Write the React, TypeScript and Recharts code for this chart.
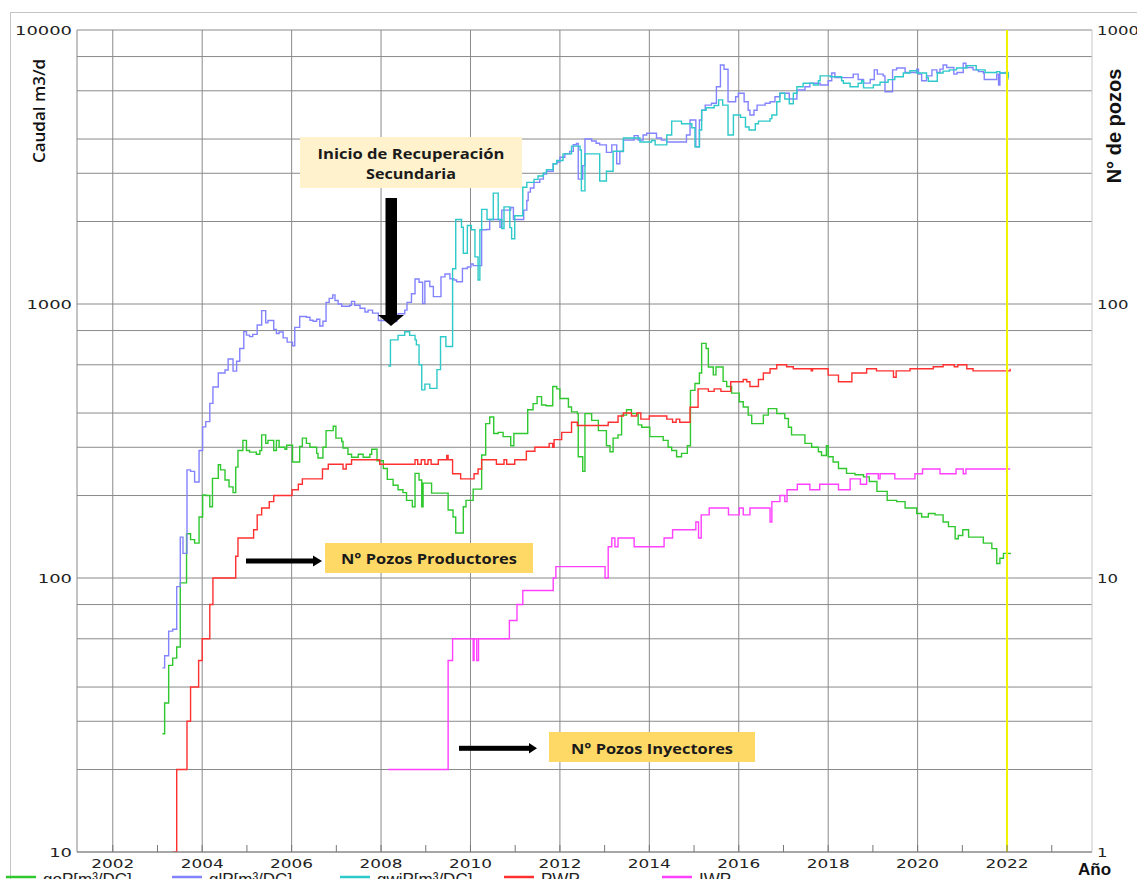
import React from "react";
import { LineChart, Line, XAxis, YAxis, CartesianGrid, ReferenceLine } from "recharts";

const W = 1137;
const H = 879;

// goP [m3/DC] – oil rate, left axis
const goP: [number, number][] = [
  [2003.11, 27], [2003.16, 35], [2003.25, 48], [2003.34, 51], [2003.43, 56], [2003.51, 96], [2003.65, 145],
  [2003.74, 138], [2003.83, 134], [2003.93, 167], [2004.01, 201], [2004.08, 200], [2004.17, 182], [2004.23, 231],
  [2004.36, 259], [2004.41, 248], [2004.51, 228], [2004.6, 215], [2004.69, 205], [2004.75, 254], [2004.8, 292],
  [2004.91, 318], [2004.99, 292], [2005.06, 288], [2005.21, 283], [2005.29, 292], [2005.33, 333], [2005.42, 310],
  [2005.47, 318], [2005.6, 292], [2005.66, 318], [2005.72, 300], [2005.85, 295], [2005.89, 305], [2006.02, 265],
  [2006.18, 302], [2006.24, 324], [2006.33, 310], [2006.41, 300], [2006.56, 285], [2006.59, 274], [2006.7, 300],
  [2006.77, 345], [2006.93, 358], [2006.99, 324], [2007.12, 315], [2007.15, 298], [2007.26, 283], [2007.34, 276],
  [2007.49, 283], [2007.6, 276], [2007.75, 283], [2007.79, 295], [2007.91, 268], [2008.05, 251], [2008.14, 229],
  [2008.27, 218], [2008.38, 210], [2008.49, 205], [2008.57, 192], [2008.7, 182], [2008.76, 241], [2008.85, 228],
  [2008.91, 182], [2008.94, 222], [2009.13, 204], [2009.5, 177], [2009.61, 167], [2009.67, 146], [2009.84, 182],
  [2009.9, 192], [2010.06, 211], [2010.25, 281], [2010.34, 366], [2010.43, 387], [2010.52, 337], [2010.62, 340],
  [2010.73, 328], [2010.9, 304], [2010.97, 337], [2011.28, 411], [2011.4, 433], [2011.49, 459], [2011.59, 428],
  [2011.69, 425], [2011.84, 500], [2011.93, 490], [2012.0, 452], [2012.19, 421], [2012.26, 404], [2012.39, 398],
  [2012.41, 277], [2012.51, 245], [2012.56, 398], [2012.71, 376], [2012.86, 345], [2013.04, 304], [2013.12, 289],
  [2013.19, 324], [2013.3, 333], [2013.38, 393], [2013.49, 411], [2013.6, 398], [2013.75, 362], [2013.83, 355],
  [2014.01, 328], [2014.31, 318], [2014.42, 300], [2014.5, 292], [2014.61, 277], [2014.72, 285], [2014.85, 304],
  [2014.92, 484], [2015.02, 513], [2015.12, 560], [2015.17, 718], [2015.27, 688], [2015.32, 589], [2015.43, 551],
  [2015.49, 589], [2015.65, 522], [2015.73, 500], [2015.84, 473], [2016.01, 440], [2016.1, 421], [2016.21, 393],
  [2016.29, 366], [2016.55, 393], [2016.66, 415], [2016.85, 398], [2017.03, 382], [2017.11, 355], [2017.18, 333],
  [2017.48, 310], [2017.63, 300], [2017.78, 289], [2017.85, 280], [2017.96, 304], [2018.0, 277], [2018.11, 265],
  [2018.23, 251], [2018.41, 241], [2018.6, 238], [2018.79, 234], [2018.92, 225], [2019.09, 207], [2019.32, 192],
  [2019.53, 190], [2019.72, 180], [2019.98, 172], [2020.09, 167], [2020.24, 172], [2020.39, 170], [2020.57, 160],
  [2020.69, 154], [2020.84, 139], [2020.91, 143], [2021.01, 150], [2021.14, 141], [2021.47, 134], [2021.66, 128],
  [2021.77, 113], [2021.84, 118], [2021.92, 123], [2022.07, 122],
];

// glP [m3/DC] – liquid rate, left axis
const glP: [number, number][] = [
  [2003.11, 47], [2003.16, 52], [2003.25, 64], [2003.34, 65], [2003.43, 93], [2003.51, 141], [2003.57, 123],
  [2003.66, 248], [2003.74, 245], [2003.83, 224], [2003.93, 292], [2004.01, 356], [2004.08, 372], [2004.17, 434],
  [2004.24, 498], [2004.36, 560], [2004.51, 574], [2004.58, 630], [2004.69, 569], [2004.77, 618], [2004.84, 688],
  [2004.93, 793], [2004.99, 770], [2005.06, 760], [2005.13, 775], [2005.23, 838], [2005.33, 946], [2005.42, 853],
  [2005.47, 870], [2005.6, 808], [2005.66, 780], [2005.72, 790], [2005.81, 752], [2005.9, 726], [2006.02, 704],
  [2006.07, 822], [2006.18, 900], [2006.33, 895], [2006.41, 872], [2006.48, 865], [2006.56, 880], [2006.63, 831],
  [2006.7, 865], [2006.77, 1014], [2006.84, 1048], [2006.92, 1080], [2006.97, 1030], [2007.04, 1000], [2007.12, 981],
  [2007.3, 990], [2007.34, 1022], [2007.41, 990], [2007.53, 965], [2007.64, 935], [2007.71, 950], [2007.81, 926],
  [2007.94, 870], [2008.14, 863], [2008.35, 890], [2008.38, 921], [2008.53, 950], [2008.58, 1014], [2008.68, 1090],
  [2008.76, 1234], [2008.85, 1200], [2008.93, 1004], [2008.98, 1211], [2009.09, 1159], [2009.17, 1064], [2009.34, 1256],
  [2009.43, 1287], [2009.54, 1237], [2009.63, 1223], [2009.69, 1206], [2009.82, 1347], [2009.93, 1364], [2010.01, 1400],
  [2010.06, 1380], [2010.25, 1866], [2010.36, 1870], [2010.43, 2033], [2010.66, 1905], [2010.7, 2201], [2010.9, 2250],
  [2010.96, 2033], [2011.19, 2201], [2011.26, 2386], [2011.29, 2560], [2011.34, 2650], [2011.42, 2778], [2011.55, 2855],
  [2011.63, 2978], [2011.7, 3050], [2011.85, 3250], [2011.93, 3300], [2012.0, 3433], [2012.11, 3530], [2012.22, 3606],
  [2012.3, 3812], [2012.37, 3855], [2012.41, 2855], [2012.51, 3200], [2012.56, 4001], [2012.71, 3935], [2012.81, 3860],
  [2012.89, 3810], [2013.04, 3577], [2013.16, 3810], [2013.27, 3250], [2013.34, 3600], [2013.42, 3965], [2013.66, 4117],
  [2013.75, 3965], [2013.86, 4140], [2013.94, 4200], [2014.16, 4035], [2014.27, 3965], [2014.39, 3900], [2014.57, 3900],
  [2014.83, 4138], [2014.91, 4692], [2015.04, 3750], [2015.12, 4692], [2015.17, 5096], [2015.25, 5320], [2015.39, 5400],
  [2015.5, 6210], [2015.59, 7450], [2015.67, 7190], [2015.76, 5470], [2015.93, 5710], [2015.99, 5875], [2016.12, 5470],
  [2016.21, 5096], [2016.25, 4895], [2016.34, 5096], [2016.41, 5320], [2016.59, 5400], [2016.7, 5470], [2016.81, 5710],
  [2016.92, 5875], [2017.13, 5600], [2017.3, 6040], [2017.48, 6210], [2017.59, 6390], [2017.82, 6300], [2018.0, 6530],
  [2018.08, 6970], [2018.15, 6700], [2018.56, 6900], [2018.67, 6600], [2018.79, 6400], [2018.94, 6600], [2019.03, 7150],
  [2019.1, 6900], [2019.23, 6800], [2019.27, 5950], [2019.44, 7150], [2019.53, 7270], [2019.72, 7000], [2019.98, 7200],
  [2020.02, 6900], [2020.09, 6530], [2020.2, 6800], [2020.32, 7150], [2020.43, 7000], [2020.5, 7200], [2020.57, 7450],
  [2020.65, 7300], [2020.81, 6900], [2020.88, 7000], [2021.02, 7560], [2021.08, 7300], [2021.24, 7150], [2021.36, 7050],
  [2021.47, 6970], [2021.49, 6600], [2021.64, 6600], [2021.77, 6900], [2021.81, 6300], [2021.84, 6970], [2021.96, 7000],
  [2022.02, 6590],
];

// gwiP [m3/DC] – water injection rate, left axis
const gwiP: [number, number][] = [
  [2008.16, 594], [2008.21, 740], [2008.38, 768], [2008.53, 792], [2008.64, 768], [2008.76, 740], [2008.79, 709],
  [2008.85, 600], [2008.91, 486], [2008.98, 510], [2009.09, 492], [2009.25, 576], [2009.33, 759], [2009.45, 700],
  [2009.6, 1344], [2009.67, 2033], [2009.8, 1905], [2009.84, 1531], [2009.93, 1933], [2010.02, 1866], [2010.1, 1486],
  [2010.17, 1223], [2010.21, 1866], [2010.25, 2214], [2010.37, 2033], [2010.51, 2539], [2010.62, 2033], [2010.7, 1887],
  [2010.75, 2261], [2010.88, 1900], [2010.92, 1730], [2010.99, 2100], [2011.17, 2666], [2011.26, 2778], [2011.42, 2850],
  [2011.51, 2932], [2011.63, 3011], [2011.7, 3094], [2011.85, 3250], [2011.93, 3340], [2012.07, 3530], [2012.26, 3770],
  [2012.45, 3650], [2012.48, 2588], [2012.56, 3530], [2012.89, 2812], [2013.04, 3052], [2013.19, 3610], [2013.42, 4035],
  [2013.79, 3900], [2014.05, 3950], [2014.13, 3810], [2014.39, 4138], [2014.5, 4650], [2014.72, 4550], [2014.95, 4400],
  [2015.02, 3750], [2015.12, 4315], [2015.17, 5096], [2015.27, 5200], [2015.45, 5300], [2015.55, 5560], [2015.64, 5320],
  [2015.76, 4138], [2015.88, 4895], [2016.04, 4800], [2016.15, 4425], [2016.23, 4315], [2016.37, 4550], [2016.44, 4650],
  [2016.7, 4750], [2016.74, 4895], [2016.85, 5470], [2016.92, 5875], [2017.03, 5600], [2017.13, 5380], [2017.22, 5875],
  [2017.3, 6210], [2017.44, 6390], [2017.67, 6300], [2017.78, 6530], [2017.82, 6800], [2018.05, 6750], [2018.3, 6530],
  [2018.34, 6390], [2018.49, 6210], [2018.67, 6390], [2018.75, 6530], [2018.79, 6150], [2019.01, 6300], [2019.16, 6450],
  [2019.34, 6590], [2019.49, 6750], [2019.68, 6970], [2019.83, 7100], [2019.98, 6970], [2020.2, 6700], [2020.24, 6500],
  [2020.44, 6970], [2020.57, 7080], [2020.71, 7150], [2020.87, 7270], [2021.1, 7410], [2021.31, 7150], [2021.51, 7000],
  [2021.77, 7050], [2021.84, 6970], [2022.03, 6700],
];

// PWP – producing wells, right axis
const pwp: [number, number][] = [
  [2003.35, 1], [2003.43, 2], [2003.66, 3], [2003.74, 4], [2003.92, 5], [2004.0, 6], [2004.17, 8], [2004.24, 10],
  [2004.75, 12], [2004.8, 14], [2005.15, 15], [2005.23, 17], [2005.33, 18], [2005.5, 19], [2005.6, 20], [2006.01, 21],
  [2006.15, 22], [2006.24, 23], [2006.69, 25], [2006.82, 26], [2007.15, 25], [2007.22, 26], [2007.34, 27], [2007.97, 26],
  [2008.76, 27], [2008.82, 26], [2008.9, 27], [2008.98, 26], [2009.05, 27], [2009.12, 26], [2009.28, 27], [2009.47, 28],
  [2009.5, 27], [2009.6, 24], [2009.78, 23], [2010.08, 24], [2010.17, 25], [2010.25, 27], [2010.58, 26], [2010.75, 27],
  [2010.81, 26], [2010.99, 27], [2011.25, 29], [2011.44, 30], [2011.76, 31], [2011.84, 30], [2011.87, 32], [2012.04, 34],
  [2012.26, 37], [2012.39, 36], [2013.08, 37], [2013.3, 39], [2013.42, 40], [2013.6, 39], [2013.72, 40], [2013.81, 38],
  [2014.0, 39], [2014.39, 38], [2014.52, 37], [2014.6, 38], [2014.68, 37], [2014.91, 42], [2015.09, 49], [2015.32, 48],
  [2015.45, 49], [2015.6, 48], [2015.82, 52], [2016.1, 53], [2016.18, 52], [2016.25, 50], [2016.44, 53], [2016.55, 56],
  [2016.7, 58], [2016.85, 60], [2017.07, 59], [2017.22, 58], [2017.5, 58], [2017.62, 57], [2017.65, 58], [2018.0, 55],
  [2018.23, 52], [2018.53, 56], [2018.86, 58], [2019.08, 57], [2019.46, 54], [2019.52, 57], [2019.83, 58], [2020.35, 59],
  [2020.57, 60], [2020.82, 59], [2020.9, 60], [2021.1, 58], [2021.24, 57], [2021.55, 57], [2022.07, 58],
];

// IWP – injection wells, right axis
const iwp: [number, number][] = [
  [2008.16, 2], [2009.5, 5], [2009.6, 6], [2010.06, 5], [2010.08, 6], [2010.14, 5], [2010.18, 6], [2010.87, 7],
  [2011.04, 8], [2011.17, 9], [2011.85, 10], [2011.91, 11], [2013.01, 10], [2013.08, 13], [2013.16, 14], [2013.23, 13],
  [2013.3, 14], [2013.66, 13], [2014.33, 14], [2014.52, 15], [2015.04, 16], [2015.1, 14], [2015.16, 17], [2015.34, 18],
  [2015.77, 17], [2016.01, 18], [2016.1, 17], [2016.25, 18], [2016.7, 16], [2016.74, 19], [2016.92, 20], [2017.03, 19],
  [2017.08, 21], [2017.31, 22], [2017.59, 21], [2017.81, 22], [2018.23, 21], [2018.49, 23], [2018.72, 22], [2018.86, 24],
  [2019.12, 23], [2019.16, 24], [2019.49, 23], [2019.94, 24], [2020.11, 25], [2020.5, 24], [2020.86, 25], [2021.02, 24],
  [2021.08, 25], [2022.07, 25],
];

const yearTicks = Array.from({ length: 22 }, (_, i) => 2002 + i);
const gridYears = yearTicks.filter((y) => y % 2 === 0);
const rateTicks = [10, 100, 1000, 10000];
const wellTicks = [1, 10, 100, 1000];
const rateGrid = [10, 100, 1000].flatMap((d) => [1, 2, 3, 4, 5, 6, 7, 8, 9].map((m) => d * m)).concat([10000]);

const series = [
  { key: "goP", label: "goP[m³/DC]", color: "#2fc82f", data: goP, axis: "left" },
  { key: "glP", label: "glP[m³/DC]", color: "#8383ff", data: glP, axis: "left" },
  { key: "gwiP", label: "gwiP[m³/DC]", color: "#2ec9c9", data: gwiP, axis: "left" },
  { key: "pwp", label: "PWP", color: "#ff3030", data: pwp, axis: "right" },
  { key: "iwp", label: "IWP", color: "#ff40ff", data: iwp, axis: "right" },
];
const legendX = [6, 172, 340, 504, 662];

const toRows = (pts: [number, number][]) => pts.map(([t, v]) => ({ t, v }));

const tickFont = "DejaVu Sans";

const YearTick = (props: any) => {
  const { x, payload } = props;
  const yr = payload.value as number;
  return (
    <g>
      <line x1={x} x2={x} y1={852} y2={845} stroke="#777" strokeWidth={1} />
      {yr % 2 === 0 && (
        <text x={x} y={868} textAnchor="middle" fontFamily={tickFont} fontSize={13} fill="#222"
          textLength={43} lengthAdjust="spacingAndGlyphs">{yr}</text>
      )}
    </g>
  );
};

const RateTick = (props: any) => {
  const { y, payload } = props;
  const s = String(payload.value);
  return (
    <text x={72} y={y + 4.5} textAnchor="end" fontFamily={tickFont} fontSize={12} fill="#222"
      textLength={s.length * 11.4} lengthAdjust="spacingAndGlyphs">{s}</text>
  );
};

const WellTick = (props: any) => {
  const { y, payload } = props;
  const s = String(payload.value);
  return (
    <text x={1097} y={y + 4.5} textAnchor="start" fontFamily={tickFont} fontSize={12} fill="#222"
      textLength={s.length * 10.5} lengthAdjust="spacingAndGlyphs">{s}</text>
  );
};

export default function App() {
  const boxFont = "Open Sans";
  return (
    <div style={{ position: "absolute", left: 0, top: 0, width: W, height: H, overflow: "hidden", background: "#fff" }}>
      <div style={{ position: "absolute", left: 10, top: 12, width: 1300, height: 1000, border: "1px solid #c4c4c4" }} />
      <div style={{ position: "absolute", left: 0, top: 0 }}>
        <LineChart width={W} height={H} margin={{ top: 30, right: 0, bottom: 0, left: 0 }}>
          <CartesianGrid yAxisId="left" horizontalValues={rateGrid} verticalValues={gridYears} stroke="#8a8a8a" strokeWidth={1} />
          <XAxis dataKey="t" type="number" domain={[2001.2, 2023.9]} allowDataOverflow ticks={yearTicks} interval={0}
            height={27} tickLine={false} axisLine={{ stroke: "#888" }} tick={<YearTick />} />
          <YAxis yAxisId="left" scale="log" domain={[10, 10000]} allowDataOverflow ticks={rateTicks} width={77}
            tickLine={false} axisLine={{ stroke: "#888" }} tick={<RateTick />} />
          <YAxis yAxisId="right" orientation="right" scale="log" domain={[1, 1000]} allowDataOverflow ticks={wellTicks}
            width={45} tickLine={false} axisLine={{ stroke: "#c8c8c8" }} tick={<WellTick />} />
          {series.map((s) => (
            <Line key={s.key} data={toRows(s.data)} dataKey="v" yAxisId={s.axis} type="stepAfter" stroke={s.color}
              strokeWidth={1.4} dot={false} activeDot={false} isAnimationActive={false} />
          ))}
          <ReferenceLine yAxisId="left" x={2022} stroke="#f2f200" strokeWidth={2} />
        </LineChart>
      </div>
      <svg width={W} height={H} style={{ position: "absolute", left: 0, top: 0 }}>
        <text transform="translate(45,111) rotate(-90)" textAnchor="middle" fontFamily={boxFont} fontWeight={600}
          fontSize={17} fill="#111">Caudal m3/d</text>
        <text transform="translate(1121,126) rotate(-90)" textAnchor="middle" fontFamily="Liberation Sans" fontWeight={700}
          fontSize={20} fill="#111">N° de pozos</text>
        <text x={1078} y={875} fontFamily="Liberation Sans" fontWeight={700} fontSize={17} fill="#111">Año</text>

        <rect x={300} y={137} width={222} height={51} fill="#fff2cc" />
        <text x={411} y={158.5} textAnchor="middle" fontFamily={boxFont} fontWeight={700} fontSize={14} fill="#1a1a1a"
          textLength={187} lengthAdjust="spacingAndGlyphs">Inicio de Recuperación</text>
        <text x={411} y={178.5} textAnchor="middle" fontFamily={boxFont} fontWeight={700} fontSize={14} fill="#1a1a1a"
          textLength={90} lengthAdjust="spacingAndGlyphs">Secundaria</text>
        <rect x={385.5} y={198} width={11.5} height={118} fill="#000" />
        <polygon points="378,315 404,315 391,326" fill="#000" />

        <rect x={325} y={543} width={208} height={30} fill="#ffd966" />
        <text x={429} y={564} textAnchor="middle" fontFamily={boxFont} fontWeight={700} fontSize={14} fill="#1a1a1a"
          textLength={176} lengthAdjust="spacingAndGlyphs">N° Pozos Productores</text>
        <rect x={246} y={558.5} width={69} height={5} fill="#000" />
        <polygon points="313,555.5 313,566.5 322,561" fill="#000" />

        <rect x={549} y={732} width={206} height={30} fill="#ffd966" />
        <text x={652} y={753.5} textAnchor="middle" fontFamily={boxFont} fontWeight={700} fontSize={14} fill="#1a1a1a"
          textLength={162} lengthAdjust="spacingAndGlyphs">N° Pozos Inyectores</text>
        <rect x={459} y={745.8} width={71} height={5} fill="#000" />
        <polygon points="529,743 529,753.5 537,748.3" fill="#000" />

        {series.map((s, i) => (
          <g key={s.key}>
            <line x1={legendX[i]} x2={legendX[i] + 30} y1={877} y2={877} stroke={s.color} strokeWidth={2.5} />
            <text x={legendX[i] + 37} y={885} fontFamily="Liberation Sans" fontSize={17} fill="#222">{s.label}</text>
          </g>
        ))}
      </svg>
    </div>
  );
}
